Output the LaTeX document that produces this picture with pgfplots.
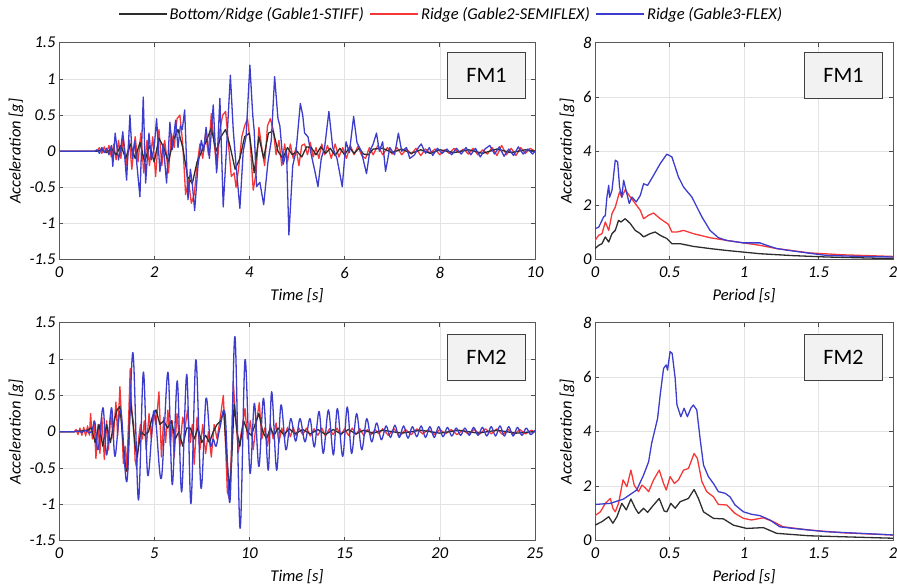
\documentclass[border=0pt]{standalone}
\usepackage{pgfplots}
\pgfplotsset{compat=1.18}
\usepackage{fontspec}
\setmainfont{Carlito}
\definecolor{cK}{RGB}{45,45,45}
\definecolor{cR}{RGB}{245,55,55}
\definecolor{cB}{RGB}{60,60,205}
\tikzset{
  fmbox/.style={draw=black!75, fill=gray!10, line width=1pt, minimum width=78pt,
    minimum height=46pt, anchor=north east, font=\fontsize{22}{26}\selectfont, inner sep=0pt},
}
\pgfplotsset{
  base/.style={
    scale only axis,
    axis line style={draw=gray!70!black, line width=1pt},
    tick style={draw=gray!60!black, line width=0.7pt},
    major tick length=4pt,
    tick align=inside,
    grid=major,
    major grid style={draw=gray!22, line width=0.5pt},
    ticklabel style={font=\fontsize{16.5}{19}\selectfont\itshape},
    xticklabel style={yshift=-4pt},
    label style={font=\fontsize{16.5}{19}\selectfont\itshape},
    xlabel style={at={(axis description cs:0.5,-0.165)}, anchor=center},
    every axis plot/.append style={line width=1.3pt, line join=round},
  },
  tleft/.style={base, width=476pt, ytick={-1.5,-1,-0.5,0,0.5,1,1.5},
    yticklabels={-1.5,-1,-0.5,0,0.5,1,1.5}, ymin=-1.5, ymax=1.5,
    ylabel={Acceleration [g]}, xlabel={Time [s]},
    ylabel style={at={(axis description cs:-0.090,0.5)}, anchor=center}},
  sright/.style={base, width=298pt, xmin=0, xmax=2, ymin=0, ymax=8,
    xtick={0,0.5,1,1.5,2}, xticklabels={0,0.5,1,1.5,2},
    ytick={0,2,4,6,8}, yticklabels={0,2,4,6,8},
    ylabel={Acceleration [g]}, xlabel={Period [s]},
    ylabel style={at={(axis description cs:-0.094,0.5)}, anchor=center}},
}
\begin{document}
\begin{tikzpicture}
\path[use as bounding box] (0pt,0pt) rectangle (897pt,588pt);
% ---------------- FM1 time history
\begin{axis}[tleft, at={(59pt,328.3pt)}, anchor=south west, height=217pt,
  xmin=0, xmax=10, xtick={0,2,4,6,8,10}, xticklabels={0,2,4,6,8,10},
  legend columns=3,
  legend style={at={(axis description cs:0.824,1.132)}, anchor=center, draw=none, fill=none,
    font=\fontsize{16.5}{19}\selectfont\itshape, /tikz/every even column/.append style={column sep=4pt}},
  legend image code/.code={\draw[#1] (0pt,0pt) -- (48pt,0pt);}]
\addlegendimage{cK, line width=1.3pt}
\addlegendimage{cR, line width=1.3pt}
\addlegendimage{cB, line width=1.3pt}
\legend{Bottom/Ridge (Gable1-STIFF), Ridge (Gable2-SEMIFLEX), Ridge (Gable3-FLEX)}
\addplot[cR, forget plot] coordinates {
(0,0) (0.8,0) (0.85,0.05) (0.9,-0.03) (0.95,0.06) (1.0,-0.02) (1.05,0.08) (1.1,-0.08) (1.15,0.1) (1.2,-0.12)
(1.25,0.15) (1.3,-0.1) (1.35,0.2) (1.42,-0.2) (1.48,0.15) (1.53,-0.25) (1.6,0.2) (1.66,-0.15) (1.72,0.25) (1.78,-0.3)
(1.85,0.15) (1.9,-0.2) (1.97,0.2) (2.03,-0.35) (2.1,0.3) (2.16,-0.2) (2.22,0.15) (2.3,-0.3) (2.36,0.25) (2.42,0.05)
(2.48,0.45) (2.54,0.5) (2.6,0.1) (2.66,-0.6) (2.72,-0.4) (2.78,-0.72) (2.84,-0.6) (2.9,-0.2) (2.96,0.1) (3.02,-0.1)
(3.08,0.25) (3.14,-0.05) (3.2,0.52) (3.26,0.1) (3.32,-0.25) (3.38,0.3) (3.44,0.5) (3.5,0.55) (3.56,0.1) (3.62,-0.35)
(3.68,-0.3) (3.72,-0.5) (3.78,-0.2) (3.84,0.2) (3.9,0.35) (3.96,0.45) (4.02,0.1) (4.08,-0.54) (4.14,-0.3) (4.2,0.33)
(4.26,0.05) (4.32,-0.2) (4.38,0.35) (4.44,0.45) (4.5,0.3) (4.56,-0.05) (4.62,0.15) (4.68,-0.2) (4.74,0.1) (4.8,-0.15)
(4.86,0.1) (4.92,-0.1) (4.98,0.05) (5.04,-0.2) (5.1,0.08) (5.16,0.1) (5.22,-0.05) (5.28,0.12) (5.34,-0.08) (5.4,0.05)
(5.46,-0.1) (5.52,0.1) (5.58,-0.05) (5.64,0.08) (5.72,-0.1) (5.8,0.1) (5.88,-0.08) (5.96,0.05) (6.04,-0.1) (6.12,0.08)
(6.2,-0.05) (6.28,0.07) (6.36,-0.06) (6.44,-0.1) (6.52,0.05) (6.6,-0.05) (6.7,0.08) (6.8,-0.05) (6.9,0.05) (7.0,-0.04)
(7.1,0.05) (7.2,-0.05) (7.3,0.03) (7.4,-0.04) (7.5,0.04) (7.6,-0.06) (7.7,0.03) (7.8,-0.03) (7.9,0.03) (8.0,-0.05)
(8.1,0.02) (8.2,-0.03) (8.3,0.04) (8.4,-0.02) (8.5,0.03) (8.6,-0.04) (8.7,0.04) (8.8,-0.05) (8.9,0.02) (9.0,-0.04)
(9.1,0.05) (9.2,-0.06) (9.3,0.08) (9.4,-0.05) (9.5,0.04) (9.6,-0.06) (9.7,0.05) (9.8,-0.03) (9.9,0.04) (10,0)};
\addplot[cK, forget plot] coordinates {
(0,0) (0.8,0) (0.9,0.02) (1.0,-0.02) (1.1,0.04) (1.2,-0.05) (1.3,0.08) (1.4,-0.1) (1.5,0.1) (1.6,-0.1)
(1.7,0.12) (1.8,-0.15) (1.9,0.08) (2.0,-0.15) (2.1,0.18) (2.2,0.05) (2.3,-0.15) (2.4,0.15) (2.5,0.3) (2.6,0.05)
(2.7,-0.35) (2.8,-0.45) (2.9,-0.15) (3.0,0.0) (3.1,0.15) (3.2,0.32) (3.3,0.0) (3.4,0.2) (3.5,0.3) (3.6,0.05)
(3.7,-0.25) (3.8,-0.1) (3.9,0.2) (4.0,0.25) (4.1,-0.3) (4.2,0.2) (4.3,-0.1) (4.4,0.25) (4.5,0.28) (4.6,0.0)
(4.7,-0.1) (4.8,0.05) (4.9,-0.05) (5.0,0.0) (5.1,-0.08) (5.2,0.06) (5.3,0.05) (5.4,-0.05) (5.5,0.06) (5.6,-0.03)
(5.7,0.04) (5.8,-0.06) (5.9,0.04) (6.0,-0.05) (6.1,0.05) (6.2,-0.03) (6.3,0.04) (6.4,-0.04) (6.5,-0.05) (6.6,0.03)
(6.8,0.04) (7.0,-0.02) (7.2,0.03) (7.4,-0.03) (7.6,0.02) (7.8,-0.03) (8.0,0.02) (8.3,-0.02) (8.6,0.02) (8.9,-0.03)
(9.2,0.03) (9.5,-0.02) (9.8,0.02) (10,0)};
\addplot[cB, forget plot] coordinates {
(0,0) (0.75,0) (0.8,0.02) (0.85,-0.03) (0.9,0.05) (0.95,-0.02) (1.0,0.04) (1.05,-0.05) (1.1,0.08) (1.13,-0.21)
(1.18,0.25) (1.25,-0.12) (1.3,0.05) (1.34,0.27) (1.42,-0.40) (1.49,0.50) (1.54,-0.10) (1.59,0.14) (1.70,-0.63) (1.77,0.75)
(1.82,-0.44) (1.89,0.25) (1.94,-0.12) (2.0,0.05) (2.05,0.45) (2.12,-0.28) (2.19,0.10) (2.26,-0.44) (2.33,0.40) (2.38,0.02)
(2.45,0.43) (2.50,0.05) (2.55,0.35) (2.59,0.30) (2.64,0.57) (2.71,-0.67) (2.76,-0.25) (2.80,-0.45) (2.85,-0.82) (2.92,-0.2)
(2.99,0.15) (3.04,0.0) (3.09,0.33) (3.16,-0.10) (3.24,0.64) (3.31,-0.30) (3.38,0.73) (3.45,-0.77) (3.52,0.05) (3.60,1.05)
(3.66,0.3) (3.72,-0.2) (3.80,-0.79) (3.87,0.0) (3.93,0.2) (4.01,1.19) (4.07,0.5) (4.10,0.29) (4.15,-0.49) (4.22,-0.43)
(4.30,-0.74) (4.39,-0.15) (4.46,0.15) (4.53,1.03) (4.60,0.45) (4.64,0.35) (4.71,-0.18) (4.78,0.0) (4.83,-1.16) (4.91,-0.2)
(4.98,0.0) (5.07,0.66) (5.12,0.5) (5.16,0.25) (5.23,0.2) (5.30,-0.05) (5.38,-0.29) (5.44,-0.49) (5.51,-0.1) (5.58,0.05)
(5.67,0.55) (5.75,0.05) (5.84,-0.1) (5.95,-0.49) (6.03,0.13) (6.10,-0.02) (6.19,0.48) (6.26,0.12) (6.35,0.0) (6.46,-0.31)
(6.53,0.0) (6.60,0.1) (6.67,0.25) (6.73,0.0) (6.80,0.13) (6.86,-0.28) (6.95,0.05) (7.05,-0.05) (7.13,0.25) (7.20,0.0)
(7.30,0.05) (7.37,-0.1) (7.47,-0.05) (7.55,0.05) (7.61,0.1) (7.70,-0.03) (7.78,0.05) (7.85,-0.06) (7.95,0.04) (8.05,-0.03)
(8.15,0.03) (8.25,-0.05) (8.35,0.04) (8.45,-0.04) (8.55,0.05) (8.65,-0.05) (8.75,0.04) (8.85,-0.08) (8.95,0.03) (9.05,0.08)
(9.15,-0.04) (9.25,0.06) (9.35,-0.07) (9.45,0.03) (9.55,-0.06) (9.65,0.06) (9.75,-0.04) (9.85,0.03) (9.95,-0.04) (10,0)};
\node[fmbox] at (rel axis cs:1,1) [xshift=-9pt, yshift=-9pt] {FM1};
\end{axis}
% ---------------- FM1 spectrum
\begin{axis}[sright, at={(595pt,328.3pt)}, anchor=south west, height=217pt]
\addplot[cK] coordinates {
(0,0.41) (0.025,0.53) (0.047,0.59) (0.069,0.84) (0.092,0.65) (0.114,0.96) (0.136,1.08) (0.158,1.45) (0.174,1.39) (0.203,1.51)
(0.237,1.33) (0.27,1.08) (0.304,0.96) (0.326,0.84) (0.37,0.96) (0.404,1.02) (0.4375,0.9) (0.482,0.78) (0.516,0.59) (0.571,0.59)
(0.66,0.49) (0.772,0.41) (0.884,0.34) (0.996,0.28) (1.107,0.22) (1.33,0.15) (1.55,0.10) (2.0,0.04)};
\addplot[cR] coordinates {
(0,0.71) (0.025,0.9) (0.047,0.96) (0.069,1.39) (0.092,1.08) (0.114,1.70) (0.136,1.94) (0.165,2.50) (0.18,2.31) (0.203,2.58)
(0.237,2.31) (0.27,2.07) (0.304,1.82) (0.326,1.51) (0.36,1.64) (0.393,1.72) (0.4375,1.51) (0.47,1.39) (0.493,1.30) (0.516,1.02)
(0.55,1.02) (0.594,1.08) (0.66,0.96) (0.772,0.81) (0.884,0.71) (0.996,0.62) (1.107,0.53) (1.219,0.41) (1.44,0.25) (1.665,0.18) (2.0,0.12)};
\addplot[cB] coordinates {
(0,1.14) (0.025,1.2) (0.047,1.45) (0.058,1.58) (0.069,1.62) (0.08,2.31) (0.092,2.74) (0.098,2.3) (0.114,2.56) (0.136,3.67)
(0.152,3.6) (0.165,2.68) (0.18,2.3) (0.192,2.93) (0.214,2.43) (0.23,2.07) (0.248,2.31) (0.277,2.13) (0.304,2.37) (0.326,2.8)
(0.353,2.74) (0.393,3.11) (0.4375,3.54) (0.482,3.89) (0.516,3.79) (0.56,3.05) (0.594,2.68) (0.65,2.31) (0.717,1.58) (0.772,1.08)
(0.828,0.81) (0.884,0.71) (0.996,0.62) (1.107,0.62) (1.152,0.53) (1.219,0.41) (1.33,0.32) (1.464,0.22) (1.55,0.16) (1.78,0.12) (2.0,0.10)};
\node[fmbox] at (rel axis cs:1,1) [xshift=-10pt, yshift=-9pt] {FM1};
\end{axis}
% ---------------- FM2 time history
\begin{axis}[tleft, at={(59pt,47.3pt)}, anchor=south west, height=218pt,
  xmin=0, xmax=25, xtick={0,5,10,15,20,25}, xticklabels={0,5,10,15,20,25}]
\addplot[cR] coordinates {
(0,0) (0.8,0) (0.9,0.03) (1.0,-0.04) (1.1,0.05) (1.2,-0.05) (1.3,0.06) (1.4,-0.06) (1.5,0.08) (1.6,-0.05)
(1.66,0.25) (1.75,-0.1) (1.85,0.15) (1.94,-0.37) (2.05,0.1) (2.15,-0.3) (2.25,0.2) (2.38,-0.38) (2.5,0.15) (2.6,-0.25)
(2.72,0.25) (2.85,-0.1) (2.99,0.41) (3.08,-0.05) (3.2,0.62) (3.3,0.1) (3.38,-0.44) (3.48,-0.2) (3.56,-0.55) (3.66,0.2)
(3.74,0.87) (3.82,0.3) (3.92,0.1) (4.0,-0.4) (4.08,-0.5) (4.18,-0.1) (4.28,0.1) (4.38,-0.1) (4.48,0.15) (4.58,-0.25)
(4.73,0.25) (4.85,-0.1) (4.98,0.25) (5.1,0.1) (5.25,0.55) (5.38,-0.35) (5.5,0.2) (5.6,-0.15) (5.72,0.3) (5.85,-0.2)
(5.95,0.15) (6.05,-0.35) (6.2,0.25) (6.35,-0.2) (6.5,0.2) (6.62,0.05) (6.75,0.3) (6.9,-0.15) (7.0,0.1) (7.1,-0.45)
(7.25,0.2) (7.4,-0.25) (7.55,0.1) (7.7,-0.3) (7.85,0.0) (8.0,-0.35) (8.15,0.1) (8.3,-0.1) (8.45,0.15) (8.63,0.5)
(8.75,-0.2) (8.84,-0.83) (8.95,-0.92) (9.05,-0.3) (9.16,0.66) (9.25,0.3) (9.42,-0.28) (9.55,-0.05) (9.65,0.1) (9.77,0.32)
(9.9,-0.1) (10.05,0.15) (10.2,-0.25) (10.35,0.1) (10.52,0.4) (10.65,-0.1) (10.8,0.05) (10.95,-0.2) (11.1,0.1) (11.25,-0.1)
(11.4,0.12) (11.55,-0.15) (11.7,0.05) (11.85,-0.08) (12.0,0.06) (12.15,-0.07) (12.3,0.06) (12.45,-0.05) (12.6,0.05) (12.8,-0.04)
(13.0,0.05) (13.2,-0.06) (13.4,0.04) (13.6,-0.05) (13.8,0.05) (14.0,-0.06) (14.2,0.04) (14.4,-0.04) (14.6,0.05) (14.8,-0.05)
(15.0,0.04) (15.2,-0.05) (15.4,0.05) (15.6,-0.04) (15.8,0.04) (16.0,-0.05) (16.2,0.03) (16.4,-0.04) (16.6,0.03) (16.8,-0.03)
(17.0,0.04) (17.3,-0.05) (17.6,0.04) (17.9,-0.06) (18.2,0.03) (18.5,-0.04) (18.8,0.04) (19.1,-0.03) (19.4,0.03) (19.7,-0.04)
(20.0,0.03) (20.3,-0.03) (20.6,0.03) (20.9,-0.04) (21.2,0.02) (21.5,-0.03) (21.8,0.03) (22.1,-0.03) (22.4,0.04) (22.7,-0.03)
(23.0,0.04) (23.3,-0.04) (23.6,0.03) (23.9,-0.04) (24.2,0.03) (24.5,-0.03) (24.8,0.02) (25,0)};
\addplot[cK] coordinates {
(0,0) (0.8,0) (1.5,0.02) (1.7,0.05) (1.9,-0.15) (2.1,0.1) (2.3,-0.2) (2.5,0.1) (2.7,-0.15) (2.9,0.15)
(3.05,0.3) (3.2,0.35) (3.35,-0.1) (3.5,-0.5) (3.6,-0.55) (3.75,0.45) (3.85,0.2) (4.0,-0.2) (4.1,-0.35) (4.3,0.0)
(4.5,-0.05) (4.7,0.0) (4.9,0.2) (5.1,0.3) (5.3,0.1) (5.5,0.15) (5.7,0.05) (5.9,0.15) (6.1,-0.1) (6.3,0.0)
(6.5,-0.2) (6.7,0.05) (6.9,0.05) (7.1,-0.1) (7.3,0.05) (7.5,-0.15) (7.7,-0.05) (7.9,-0.15) (8.1,0.0) (8.3,0.1)
(8.5,0.15) (8.65,0.3) (8.8,-0.3) (8.95,-0.8) (9.05,-0.5) (9.2,0.38) (9.35,0.0) (9.5,-0.2) (9.7,0.15) (9.9,0.0)
(10.1,-0.05) (10.3,0.1) (10.5,0.25) (10.7,0.0) (10.9,-0.1) (11.1,0.05) (11.3,-0.05) (11.5,0.05) (11.8,-0.04) (12.1,0.04)
(12.4,-0.03) (12.8,0.03) (13.2,-0.03) (13.6,0.03) (14.0,-0.04) (14.4,0.03) (14.8,-0.03) (15.2,0.03) (15.6,-0.03) (16.0,0.02)
(16.5,-0.02) (17,0.02) (18,-0.02) (19,0.02) (20,-0.02) (21,0.02) (22,-0.02) (23,0.02) (24,-0.02) (25,0)};
\addplot[cB, smooth, tension=0.55] coordinates {
(0,0) (0.8,0) (1.0,0.01) (1.2,-0.01) (1.4,0.02) (1.6,-0.02) (1.75,0.03) (1.88,0.14) (2.05,-0.25) (2.31,0.33)
(2.5,-0.32) (2.76,0.33) (2.94,-0.34) (3.24,0.30) (3.57,-0.68) (3.88,1.09) (4.17,-0.94) (4.43,0.82) (4.66,-0.60) (4.95,0.25)
(5.10,0.10) (5.38,-0.64) (5.72,0.82) (5.95,-0.73) (6.21,0.70) (6.44,-0.83) (6.71,0.79) (6.93,-0.99) (7.19,0.99) (7.46,-0.78)
(7.72,0.46) (7.95,-0.18) (8.10,-0.10) (8.25,-0.20) (8.45,0.05) (8.72,0.25) (8.98,-0.96) (9.24,1.31) (9.51,-1.33) (9.77,0.99)
(10.03,-0.57) (10.26,0.39) (10.50,-0.48) (10.74,0.46) (10.99,-0.53) (11.17,0.55) (11.43,-0.53) (11.66,0.37) (11.92,-0.25) (12.17,0.18)
(12.43,-0.13) (12.66,0.18) (12.92,-0.14) (13.18,0.18) (13.41,-0.21) (13.66,0.28) (13.88,-0.30) (14.15,0.30) (14.41,-0.32) (14.62,0.32)
(14.90,-0.34) (15.14,0.34) (15.37,-0.30) (15.63,0.25) (15.90,-0.25) (16.16,0.18) (16.42,-0.14) (16.68,0.12) (16.93,-0.11) (17.18,0.08)
(17.41,-0.08) (17.64,0.09) (17.87,-0.08) (18.10,0.08) (18.33,-0.09) (18.56,0.07) (18.79,-0.07) (19.02,0.08) (19.25,-0.08) (19.48,0.07)
(19.71,-0.08) (19.94,0.07) (20.17,-0.07) (20.40,0.06) (20.63,-0.06) (20.86,0.05) (21.09,-0.05) (21.32,0.05) (21.55,-0.05) (21.78,0.06)
(22.01,-0.05) (22.24,0.06) (22.47,-0.06) (22.70,0.07) (22.93,-0.06) (23.16,0.08) (23.39,-0.06) (23.62,0.07) (23.85,-0.06) (24.08,0.06)
(24.31,-0.05) (24.54,0.05) (24.77,-0.04) (25,0.02)};
\node[fmbox] at (rel axis cs:1,1) [xshift=-9pt, yshift=-11pt] {FM2};
\end{axis}
% ---------------- FM2 spectrum
\begin{axis}[sright, at={(595pt,47.3pt)}, anchor=south west, height=218pt]
\addplot[cK] coordinates {
(0,0.57) (0.047,0.70) (0.092,0.88) (0.12,0.64) (0.147,0.88) (0.18,1.37) (0.21,1.13) (0.241,1.53) (0.27,1.19) (0.292,1.0)
(0.326,1.19) (0.353,1.04) (0.393,1.31) (0.431,1.55) (0.464,1.09) (0.482,1.06) (0.509,1.37) (0.538,1.19) (0.571,1.43) (0.627,1.55)
(0.665,1.88) (0.694,1.55) (0.728,1.06) (0.795,0.82) (0.862,0.80) (0.929,0.57) (1.018,0.45) (1.13,0.48) (1.219,0.27) (1.44,0.18) (2.0,0.09)};
\addplot[cR] coordinates {
(0,0.92) (0.036,1.06) (0.069,1.37) (0.103,1.55) (0.12,1.19) (0.136,1.06) (0.158,1.37) (0.188,2.23) (0.214,1.98) (0.241,2.59)
(0.263,2.04) (0.292,1.8) (0.315,2.04) (0.337,1.94) (0.36,1.8) (0.393,2.23) (0.431,2.59) (0.46,2.1) (0.478,1.86) (0.504,2.35)
(0.533,2.1) (0.56,2.23) (0.594,2.59) (0.627,2.65) (0.665,3.2) (0.687,3.02) (0.717,2.17) (0.75,1.80) (0.795,1.61) (0.828,1.33)
(0.884,1.31) (0.94,1.0) (0.996,0.82) (1.05,0.76) (1.13,0.84) (1.196,0.70) (1.263,0.51) (1.44,0.39) (1.665,0.29) (2.0,0.21)};
\addplot[cB] coordinates {
(0,1.33) (0.103,1.37) (0.192,1.53) (0.28,1.86) (0.326,2.41) (0.36,2.9) (0.38,3.57) (0.404,4.12) (0.42,4.49) (0.4375,5.35)
(0.46,6.32) (0.478,6.45) (0.487,6.26) (0.493,6.51) (0.504,6.94) (0.518,6.87) (0.538,5.96) (0.55,4.98) (0.576,4.55) (0.598,4.86)
(0.62,4.55) (0.643,4.86) (0.66,4.98) (0.683,4.8) (0.705,3.76) (0.728,2.78) (0.761,2.35) (0.795,2.1) (0.828,1.80) (0.873,1.74)
(0.906,1.61) (0.94,1.31) (0.996,1.06) (1.05,0.97) (1.107,0.92) (1.174,0.76) (1.24,0.51) (1.33,0.45) (1.55,0.33) (1.78,0.27) (2.0,0.21)};
\node[fmbox] at (rel axis cs:1,1) [xshift=-10pt, yshift=-11pt] {FM2};
\end{axis}
\end{tikzpicture}
\end{document}
